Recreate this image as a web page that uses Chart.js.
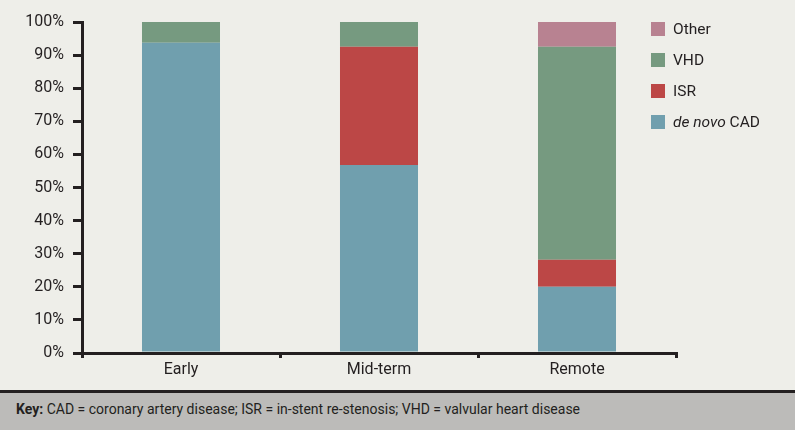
<!DOCTYPE html>
<html>
<head>
<meta charset="utf-8">
<script src="https://cdn.jsdelivr.net/npm/chart.js@4/dist/chart.umd.min.js"></script>
<style>
  html,body{margin:0;padding:0;background:#eeeee9;}
  #wrap{position:relative;width:795px;height:430px;overflow:hidden;background:#eeeee9;font-family:Roboto,"Liberation Sans",sans-serif;}
  #cv{position:absolute;left:0;top:0;width:795px;height:390px;}
  #legend{position:absolute;left:651px;top:22px;color:#231f20;font-size:15.5px;}
  .li{position:absolute;left:0;height:14px;white-space:nowrap;}
  .sw{position:absolute;left:0;top:0;width:14px;height:14px;}
  .lt{position:absolute;left:22px;top:-3px;line-height:20px;}
  #footer{position:absolute;left:0;top:390px;width:795px;height:40px;background:#bcbbb9;border-top:3px solid #231f20;box-sizing:border-box;}
  #footer span.t{position:absolute;left:16px;top:6px;font-family:Roboto,sans-serif;font-size:14px;line-height:20px;color:#231f20;white-space:nowrap;}
</style>
</head>
<body>
<div id="wrap">
  <canvas id="cv" width="795" height="390"></canvas>
  <div id="legend"></div>
  <div id="footer"><span class="t"><b>Key:</b> CAD = coronary artery disease; ISR = in-stent re-stenosis; VHD = valvular heart disease</span></div>
</div>
<script>
const categories = ["Early", "Mid-term", "Remote"];
const deNovoCAD = [93.7, 56.8, 20.0];
const isr = [0, 35.7, 8.2];
const vhd = [6.3, 7.5, 64.3];
const other = [0, 0, 7.5];
const yTicks = [0,10,20,30,40,50,60,70,80,90,100];

const colors = {cad:"#709fae", isr:"#bc4746", vhd:"#769a80", other:"#b88291"};
const ink = "#231f20";

const datasets = [
  {label:"de novo CAD", data:deNovoCAD, backgroundColor:colors.cad},
  {label:"ISR", data:isr, backgroundColor:colors.isr},
  {label:"VHD", data:vhd, backgroundColor:colors.vhd},
  {label:"Other", data:other, backgroundColor:colors.other}
];

new Chart(document.getElementById("cv"), {
  type:"bar",
  data:{labels:categories, datasets:datasets.map(d=>Object.assign({borderWidth:0, categoryPercentage:1, barPercentage:0.394}, d))},
  options:{
    responsive:false, animation:false,
    devicePixelRatio:1,
    layout:{padding:{top:22, right:119, left:0, bottom:0}},
    plugins:{legend:{display:false}, tooltip:{enabled:false}},
    scales:{
      x:{
        stacked:true,
        afterFit:(s)=>{s.height=37;},
        grid:{offset:true, drawOnChartArea:false, tickLength:5, lineWidth:3, color:ink},
        border:{display:true, width:3, color:ink},
        ticks:{color:ink, font:{family:"Roboto", size:16}, padding:2}
      },
      y:{
        stacked:true, min:0, max:100,
        afterFit:(s)=>{s.width=82;},
        afterBuildTicks:(s)=>{s.ticks = yTicks.map(v=>({value:v}));},
        grid:{drawOnChartArea:false, tickLength:9, lineWidth:3, color:ink},
        border:{display:true, width:3, color:ink},
        ticks:{color:ink, font:{family:"Roboto", size:16}, padding:9, callback:(v)=>v+"%"}
      }
    }
  }
});

// HTML legend (top to bottom: Other, VHD, ISR, de novo CAD)
const legendItems = [
  {html:"Other", color:colors.other},
  {html:"VHD", color:colors.vhd},
  {html:"ISR", color:colors.isr},
  {html:"<i>de novo</i> CAD", color:colors.cad}
];
const lg = document.getElementById("legend");
legendItems.forEach((it,i)=>{
  const d = document.createElement("div");
  d.className="li"; d.style.top=(i*31)+"px";
  d.innerHTML = '<span class="sw" style="background:'+it.color+'"></span><span class="lt">'+it.html+'</span>';
  lg.appendChild(d);
});
</script>
</body>
</html>
